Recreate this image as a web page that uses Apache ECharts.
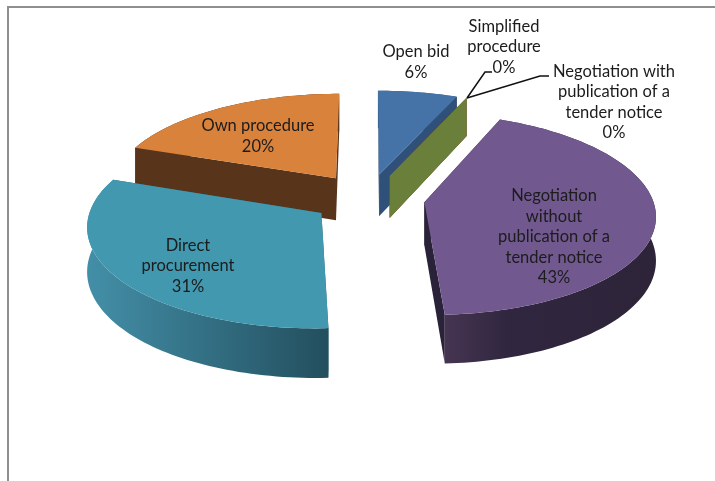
<!DOCTYPE html>
<html>
<head>
<meta charset="utf-8">
<style>
  html, body { margin: 0; padding: 0; background: #fff; }
  #chart { width: 715px; height: 481px; }
</style>
<script src="https://cdn.jsdelivr.net/npm/echarts@6/dist/echarts.min.js"></script>
</head>
<body>
<div id="chart"></div>
<script>
// slices, clockwise from the top
const categories = [
    'Open bid',
    'Simplified\nprocedure',
    'Negotiation with\npublication of a\ntender notice',
    'Negotiation\nwithout\npublication of a\ntender notice',
    'Direct\nprocurement',
    'Own procedure'
];
const values = [6.4, 0, 0, 42.8, 31.3, 19.5];

// back to front
const drawOrder = [0, 1, 2, 5, 3, 4];

const topColors = ['#4573a7', '#aa4643', '#6a7f3a', '#71588f', '#4198af', '#d9823b'];
const faceColors = ['#2f5078', '#7a302e', '#6a7f3a', '#2a2238', '#2b6577', '#57341a'];
const wallStops = [
    [[0, '#2f5078'], [1, '#2f5078']],
    [[0, '#7a302e'], [1, '#7a302e']],
    [[0, '#6a7f3a'], [1, '#6a7f3a']],
    [[0, '#463552'], [0.3, '#30263f'], [1, '#2d2439']],
    [[0, '#438fa8'], [1, '#234f5e']],
    [[0, '#57341a'], [1, '#57341a']]
];

// label centre and leader line for each slice
const labelCenters = [[416, 62], [504, 47], [614, 102], [554, 237], [188, 266], [258, 136]];
const leaderLines = [
    [[467, 98], [485, 72], [492, 72]],
    [[467, 98], [540, 76], [549, 76]]
];

// fake 3d pie projection
const cx = 368, cy = 198;
const radiusX = 228, radiusY = 98.5;
const perspective = 0.115;
const explode = 0.25;
const depth = 43;

const total = values.reduce(function(a, b) { return a + b; }, 0);
const starts = [];
values.reduce(function(sum, v, i) {
    starts[i] = sum;
    return sum + v;
}, 0);

function project(x, v, drop) {
    const w = 1 + perspective * v;
    return [cx + radiusX * x / w, cy - radiusY * v / w + (drop ? depth / w : 0)];
}

function renderSlice(params, api) {
    const index = api.value(2);
    const a0 = api.value(1) / total * Math.PI * 2;
    const a1 = a0 + api.value(0) / total * Math.PI * 2;
    const mid = (a0 + a1) / 2;
    const ox = Math.sin(mid) * explode;
    const ov = Math.cos(mid) * explode;

    const arcTop = [];
    const arcBottom = [];
    const steps = Math.max(2, Math.ceil((a1 - a0) * 40));
    for (let i = 0; i <= steps; i++) {
        const a = a0 + (a1 - a0) * i / steps;
        arcTop.push(project(ox + Math.sin(a), ov + Math.cos(a), false));
        arcBottom.push(project(ox + Math.sin(a), ov + Math.cos(a), true));
    }
    const apexTop = project(ox, ov, false);
    const apexBottom = project(ox, ov, true);

    const xs = arcTop.map(function(p) { return p[0]; });
    const wall = {
        type: 'linear', global: true,
        x: Math.min.apply(Math, xs), y: 0, x2: Math.max.apply(Math, xs), y2: 0,
        colorStops: wallStops[index].map(function(s) {
            return {offset: s[0], color: s[1]};
        })
    };

    function poly(points, fill) {
        return {type: 'polygon', shape: {points: points}, style: {fill: fill}};
    }

    const children = [
        poly([apexTop, arcTop[0], arcBottom[0], apexBottom], faceColors[index]),
        poly([apexTop, arcTop[steps], arcBottom[steps], apexBottom], faceColors[index])
    ];
    if (values[index] > 0) {
        children.push(poly(arcTop.concat(arcBottom.slice().reverse()), wall));
        children.push(poly([apexTop].concat(arcTop), topColors[index]));
    }
    return {type: 'group', children: children};
}

const seriesData = drawOrder.map(function(i) {
    return [values[i], starts[i], i];
});

const graphics = [
    {type: 'line', shape: {x1: 8, y1: 6, x2: 8, y2: 481}, style: {stroke: '#8f8f8f', lineWidth: 2}, z: 1},
    {type: 'line', shape: {x1: 7, y1: 7, x2: 715, y2: 7}, style: {stroke: '#8f8f8f', lineWidth: 2}, z: 1}
];
leaderLines.forEach(function(points) {
    graphics.push({
        type: 'polyline',
        shape: {points: points},
        style: {stroke: '#111', lineWidth: 1.5, fill: null},
        z: 10
    });
});
categories.forEach(function(name, i) {
    graphics.push({
        type: 'text',
        x: labelCenters[i][0],
        y: labelCenters[i][1],
        z: 11,
        style: {
            text: name + '\n' + Math.round(values[i] / total * 100) + '%',
            fontFamily: 'Lato',
            fontSize: 16.5,
            lineHeight: 20.5,
            fill: '#1c1c1c',
            align: 'center',
            verticalAlign: 'middle'
        }
    });
});

const chart = echarts.init(document.getElementById('chart'), null, {renderer: 'canvas'});
chart.setOption({
    animation: false,
    backgroundColor: '#fff',
    graphic: graphics,
    series: [{
        type: 'custom',
        coordinateSystem: 'none',
        renderItem: renderSlice,
        encode: {},
        data: seriesData,
        silent: true,
        z: 5
    }]
});
</script>
</body>
</html>
